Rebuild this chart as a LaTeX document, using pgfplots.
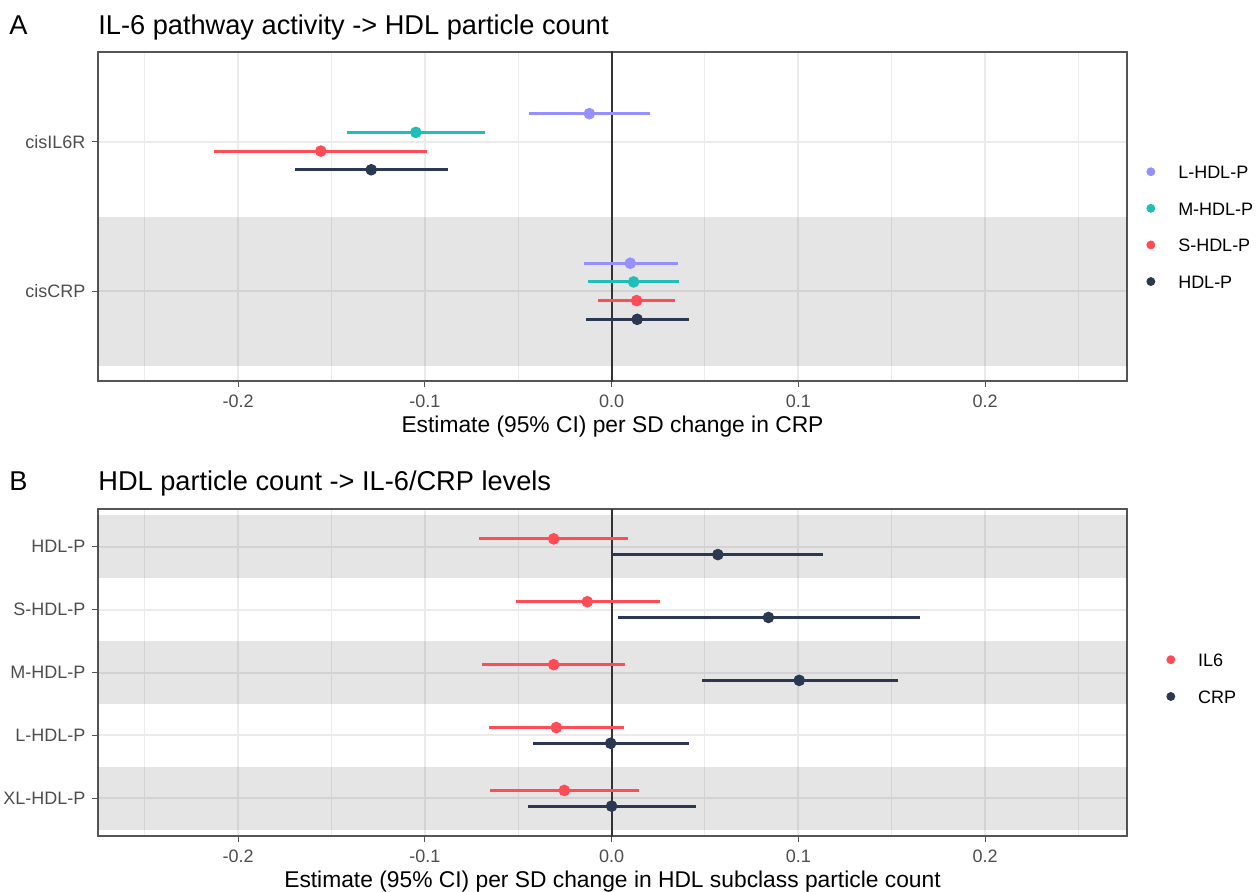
\documentclass[border=0pt]{standalone}
\usepackage{pgfplots}
\usepackage{pgfplotstable}
\pgfplotsset{compat=1.18}
\usepackage{fontspec}
\setmainfont{Liberation Sans}

\definecolor{Lcol}{RGB}{150,143,255}
\definecolor{Mcol}{RGB}{30,191,184}
\definecolor{Scol}{RGB}{255,76,86}
\definecolor{Hcol}{RGB}{44,55,82}
\definecolor{gridgray}{RGB}{235,235,235}
\definecolor{ticktext}{RGB}{77,77,77}
\definecolor{frame}{RGB}{85,85,85}

% Panel A: y = dodged position, est, lo, hi
\pgfplotstableread{
y      est      lo       hi
2.1875 -0.0119  -0.0442  0.0206
1.1875  0.0100  -0.0150  0.0355
}\tabL
\pgfplotstableread{
y      est      lo       hi
2.0625 -0.1048  -0.1416 -0.0679
1.0625  0.0118  -0.0127  0.0359
}\tabM
\pgfplotstableread{
y      est      lo       hi
1.9375 -0.1557  -0.2128 -0.0986
0.9375  0.0134  -0.0071  0.0339
}\tabS
\pgfplotstableread{
y      est      lo       hi
1.8125 -0.1287  -0.1696 -0.0877
0.8125  0.0137  -0.0139  0.0414
}\tabH
% Panel B
\pgfplotstableread{
y      est      lo       hi
5.125  -0.0310  -0.0712  0.0089
4.125  -0.0130  -0.0514  0.0257
3.125  -0.0310  -0.0692  0.0070
2.125  -0.0296  -0.0655  0.0066
1.125  -0.0253  -0.0653  0.0148
}\tabIL
\pgfplotstableread{
y      est      lo       hi
4.875   0.0569   0.0005  0.1131
3.875   0.0840   0.0034  0.1650
2.875   0.1005   0.0483  0.1535
1.875  -0.0005  -0.0423  0.0412
0.875   0.0000  -0.0448  0.0453
}\tabCRP

\pgfplotsset{
  common/.style={
    scale only axis, width=514.5pt,
    anchor=south west,
    xmin=-0.275, xmax=0.276,
    xtick={-0.2,-0.1,0,0.1,0.2},
    xticklabels={-0.2,-0.1,0.0,0.1,0.2},
    minor xtick={-0.25,-0.15,-0.05,0.05,0.15,0.25},
    xmajorgrids, xminorgrids, ymajorgrids,
    major grid style={color=gridgray, line width=1pt},
    minor grid style={color=gridgray, line width=0.5pt},
    axis line style={draw=frame, line width=0.6pt},
    tick align=outside, tick pos=left,
    major tick length=2.8pt, minor tick length=0pt,
    tick style={color=frame, line width=0.5pt},
    ticklabel style={font=\fontsize{9}{10}\selectfont, text=ticktext},
    xticklabel style={yshift=-0.7pt},
    yticklabel style={xshift=0pt},
    xlabel style={at={(axis description cs:0.5,0)}, anchor=base, yshift=-25.8pt, font=\fontsize{11.4}{13}\selectfont},
    legend cell align=left,
    legend image code/.code={\fill[##1] (0pt,0.2pt) circle (2pt);},
    legend style={draw=none, fill=none, inner sep=0pt,
      font=\fontsize{9}{10}\selectfont,
      nodes={inner sep=0pt, text height=6.4pt, text depth=0pt},
      /tikz/every odd column/.append style={column sep=11.5pt}},
    clip=true,
  },
  pr/.style={only marks, mark=*, mark size=2.7pt, color=#1, forget plot,
    error bars/.cd, x dir=both, x explicit, error mark=none,
    error bar style={line width=1.5pt, color=#1}},
}

\begin{document}
\begin{tikzpicture}
\useasboundingbox (0,0) rectangle (628pt,445.5pt);

% ---------- Panel A ----------
\node[anchor=base west, inner sep=0pt, font=\fontsize{13.6}{15}\selectfont] at (4.5pt,428pt) {A};
\node[anchor=base west, inner sep=0pt, font=\fontsize{13.6}{15}\selectfont] at (49pt,428pt) {IL-6 pathway activity -> HDL particle count};
\begin{axis}[common, at={(49pt,255pt)}, height=164.5pt,
  ymin=0.4, ymax=2.6, ytick={1,2}, yticklabels={cisCRP,cisIL6R},
  xlabel={Estimate (95\% CI) per SD change in CRP},
  legend style={at={(1.0185,0.468)}, anchor=west, row sep=11.9pt}]
  \fill[black, fill opacity=0.1] (axis cs:-1,0.5) rectangle (axis cs:1,1.5);
  \draw[color=black!80, line width=1pt] (axis cs:0,0) -- (axis cs:0,3);
  \addplot[pr=Lcol] table[x=est, y=y, x error plus expr=\thisrow{hi}-\thisrow{est}, x error minus expr=\thisrow{est}-\thisrow{lo}] {\tabL};
  \addplot[pr=Mcol] table[x=est, y=y, x error plus expr=\thisrow{hi}-\thisrow{est}, x error minus expr=\thisrow{est}-\thisrow{lo}] {\tabM};
  \addplot[pr=Scol] table[x=est, y=y, x error plus expr=\thisrow{hi}-\thisrow{est}, x error minus expr=\thisrow{est}-\thisrow{lo}] {\tabS};
  \addplot[pr=Hcol] table[x=est, y=y, x error plus expr=\thisrow{hi}-\thisrow{est}, x error minus expr=\thisrow{est}-\thisrow{lo}] {\tabH};
  \addlegendimage{color=Lcol}\addlegendentry{L-HDL-P}
  \addlegendimage{color=Mcol}\addlegendentry{M-HDL-P}
  \addlegendimage{color=Scol}\addlegendentry{S-HDL-P}
  \addlegendimage{color=Hcol}\addlegendentry{HDL-P}
\end{axis}

% ---------- Panel B ----------
\node[anchor=base west, inner sep=0pt, font=\fontsize{13.6}{15}\selectfont] at (4.5pt,200.5pt) {B};
\node[anchor=base west, inner sep=0pt, font=\fontsize{13.6}{15}\selectfont] at (49pt,200.5pt) {HDL particle count -> IL-6/CRP levels};
\begin{axis}[common, at={(49pt,27.5pt)}, height=163.5pt,
  ymin=0.4, ymax=5.6, ytick={1,2,3,4,5},
  yticklabels={XL-HDL-P,L-HDL-P,M-HDL-P,S-HDL-P,HDL-P},
  xlabel={Estimate (95\% CI) per SD change in HDL subclass particle count},
  legend style={at={(1.0379,0.4817)}, anchor=west, row sep=12pt}]
  \fill[black, fill opacity=0.1] (axis cs:-1,0.5) rectangle (axis cs:1,1.5);
  \fill[black, fill opacity=0.1] (axis cs:-1,2.5) rectangle (axis cs:1,3.5);
  \fill[black, fill opacity=0.1] (axis cs:-1,4.5) rectangle (axis cs:1,5.5);
  \draw[color=black!80, line width=1pt] (axis cs:0,0) -- (axis cs:0,6);
  \addplot[pr=Scol] table[x=est, y=y, x error plus expr=\thisrow{hi}-\thisrow{est}, x error minus expr=\thisrow{est}-\thisrow{lo}] {\tabIL};
  \addplot[pr=Hcol] table[x=est, y=y, x error plus expr=\thisrow{hi}-\thisrow{est}, x error minus expr=\thisrow{est}-\thisrow{lo}] {\tabCRP};
  \addlegendimage{color=Scol}\addlegendentry{IL6}
  \addlegendimage{color=Hcol}\addlegendentry{CRP}
\end{axis}
\end{tikzpicture}
\end{document}
